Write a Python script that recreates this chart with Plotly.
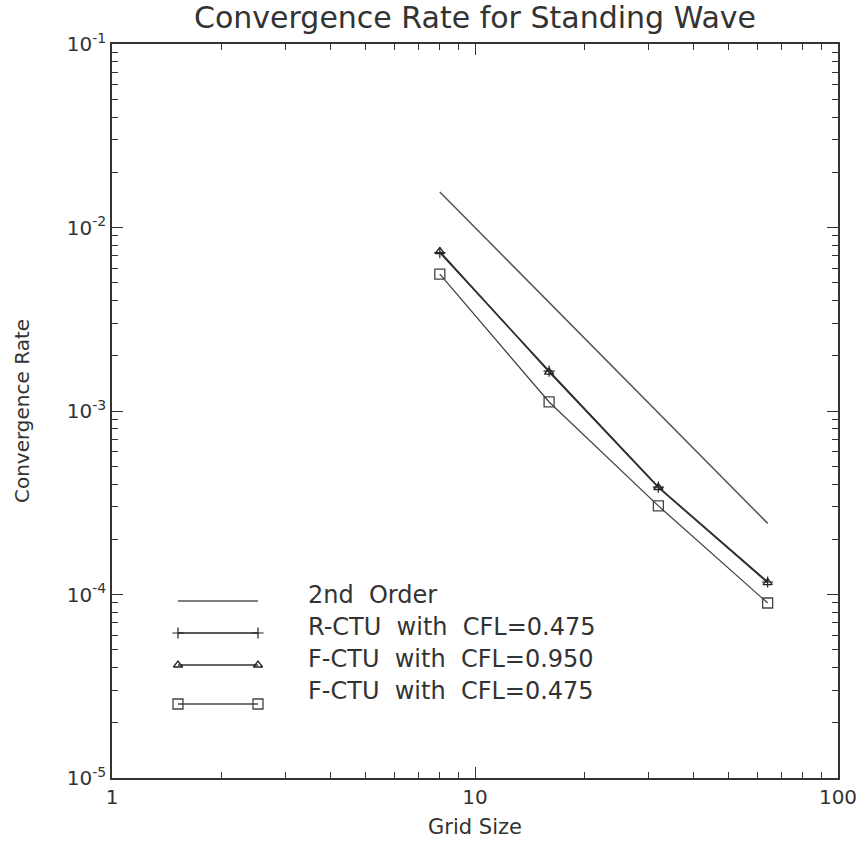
import plotly.graph_objects as go

# ---- data ----
grid = [8, 16, 32, 64]
second_order = [1/64, 1/256, 1/1024, 1/4096]
rctu_0475 = [7.3e-3, 1.65e-3, 3.85e-4, 1.17e-4]
fctu_0950 = [7.4e-3, 1.63e-3, 3.83e-4, 1.16e-4]
fctu_0475 = [5.57e-3, 1.12e-3, 3.04e-4, 8.99e-5]

x_tickvals = [1, 10, 100]
x_ticktext = ["1", "10", "100"]
y_tickvals = [1e-5, 1e-4, 1e-3, 1e-2, 1e-1]
y_ticktext = ["10<sup>-5</sup>", "10<sup>-4</sup>", "10<sup>-3</sup>", "10<sup>-2</sup>", "10<sup>-1</sup>"]

x_minor = [m * 10 ** d for d in range(0, 2) for m in range(2, 10)]
y_minor = [m * 10.0 ** d for d in range(-5, -1) for m in range(2, 10)]

legend_labels = ["2nd Order", "R-CTU with CFL=0.475", "F-CTU with CFL=0.950", "F-CTU with CFL=0.475"]

FONT = "DejaVu Sans"
INK = "#333333"

fig = go.Figure()

fig.add_trace(go.Scatter(x=grid, y=second_order, mode="lines",
                         line=dict(color="#555555", width=1.5), showlegend=False))
fig.add_trace(go.Scatter(x=grid, y=rctu_0475, mode="lines+markers",
                         line=dict(color="#222222", width=1.5),
                         marker=dict(symbol="cross-thin", size=8, line=dict(color="#222222", width=1.2)),
                         showlegend=False))
fig.add_trace(go.Scatter(x=grid, y=fctu_0950, mode="lines+markers",
                         line=dict(color="#333333", width=1.5),
                         marker=dict(symbol="triangle-up-open", size=8, color="#222222", line=dict(width=1.3)),
                         showlegend=False))
fig.add_trace(go.Scatter(x=grid, y=fctu_0475, mode="lines+markers",
                         line=dict(color="#444444", width=1.3),
                         marker=dict(symbol="square-open", size=10, color="#444444", line=dict(width=1.3)),
                         showlegend=False))

# ---- legend built on an overlay axis in pixel units ----
L, R, T, B = 112, 838, 44, 778
leg_x = [178, 258]
leg_line_y = [601, 633, 665, 704]
leg_text_y = [595, 627, 659, 691]
leg_text_x = 306
leg_styles = [
    dict(mode="lines", line=dict(color="#555555", width=1.5)),
    dict(mode="lines+markers", line=dict(color="#222222", width=1.5),
         marker=dict(symbol="cross-thin", size=8, line=dict(color="#222222", width=1.2))),
    dict(mode="lines+markers", line=dict(color="#333333", width=1.5),
         marker=dict(symbol="triangle-up-open", size=8, color="#222222", line=dict(width=1.3))),
    dict(mode="lines+markers", line=dict(color="#444444", width=1.3),
         marker=dict(symbol="square-open", size=10, color="#444444", line=dict(width=1.3))),
]
for yy, st in zip(leg_line_y, leg_styles):
    fig.add_trace(go.Scatter(x=leg_x, y=[yy, yy], xaxis="x2", yaxis="y2",
                             showlegend=False, hoverinfo="skip", **st))
for yy, lab in zip(leg_text_y, legend_labels):
    fig.add_annotation(x=leg_text_x, y=yy, xref="x2", yref="y2",
                       text=lab.replace(" ", "\u00a0\u00a0"),
                       showarrow=False, xanchor="left", yanchor="middle",
                       font=dict(family=FONT, size=24, color=INK))

axis_common = dict(type="log", ticks="inside", ticklen=11, tickwidth=1.2, tickcolor=INK,
                   showline=True, linecolor=INK, linewidth=1.5, mirror="ticks",
                   showgrid=False, zeroline=False, automargin=False,
                   tickfont=dict(family=FONT, size=20, color=INK))

fig.update_layout(
    width=862, height=846,
    margin=dict(l=L, r=862 - R, t=T, b=846 - B, autoexpand=False),
    paper_bgcolor="white", plot_bgcolor="white",
    title=dict(text="Convergence Rate for Standing Wave", x=0.5, xref="paper", xanchor="center",
               y=1 - 17 / 846, yanchor="middle",
               font=dict(family=FONT, size=30, color=INK)),
    xaxis=dict(range=[0, 2], tickvals=x_tickvals, ticktext=x_ticktext,
               minor=dict(ticks="inside", ticklen=6, tickwidth=1.2, tickcolor=INK,
                          tickmode="array", tickvals=x_minor, showgrid=False),
               title=dict(text="Grid Size", font=dict(family=FONT, size=21, color=INK), standoff=12),
               **axis_common),
    yaxis=dict(range=[-5, -1], tickvals=y_tickvals, ticktext=y_ticktext,
               minor=dict(ticks="inside", ticklen=6, tickwidth=1.2, tickcolor=INK,
                          tickmode="array", tickvals=y_minor, showgrid=False),
               title=dict(text="Convergence Rate", font=dict(family=FONT, size=20, color=INK), standoff=32),
               **axis_common),
    xaxis2=dict(range=[L, R], overlaying="x", visible=False, anchor="y2"),
    yaxis2=dict(range=[B, T], overlaying="y", visible=False, anchor="x2"),
)

fig.write_html("out.html")
